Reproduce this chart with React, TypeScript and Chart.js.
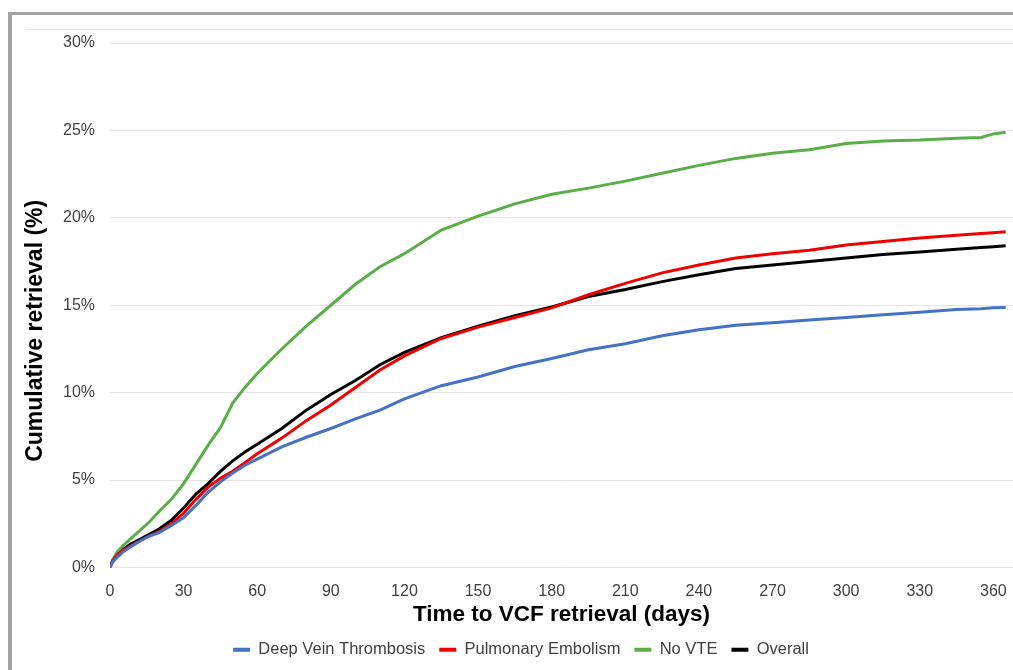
import React, { useEffect, useRef } from "react";
import { Chart, registerables } from "chart.js";

Chart.register(...registerables);

// Days since VCF placement
const days = [0, 1, 3, 5, 8, 12, 16, 20, 25, 30, 35, 40, 45, 50, 55, 60, 70, 80, 90, 100, 110, 120, 135, 150, 165, 180, 195, 210, 225, 240, 255, 270, 285, 300, 315, 330, 345, 355, 360, 365];

// Cumulative retrieval (%)
const dvt = [0, 0.3, 0.6, 0.85, 1.15, 1.5, 1.8, 2.0, 2.4, 2.85, 3.55, 4.3, 4.9, 5.4, 5.85, 6.2, 6.9, 7.45, 7.95, 8.5, 9.0, 9.65, 10.4, 10.9, 11.5, 11.95, 12.45, 12.8, 13.25, 13.6, 13.85, 14.0, 14.15, 14.3, 14.45, 14.6, 14.75, 14.8, 14.85, 14.87];
const pe = [0, 0.35, 0.75, 0.95, 1.2, 1.5, 1.8, 2.05, 2.5, 3.1, 3.9, 4.6, 5.1, 5.5, 6.0, 6.5, 7.4, 8.4, 9.3, 10.3, 11.3, 12.1, 13.1, 13.75, 14.3, 14.85, 15.6, 16.25, 16.85, 17.3, 17.7, 17.95, 18.15, 18.45, 18.65, 18.85, 19.0, 19.1, 19.15, 19.2];
const noVte = [0, 0.4, 0.9, 1.2, 1.6, 2.1, 2.6, 3.2, 3.9, 4.8, 5.9, 7.0, 8.0, 9.4, 10.3, 11.1, 12.5, 13.8, 15.0, 16.2, 17.2, 17.95, 19.3, 20.1, 20.8, 21.35, 21.7, 22.1, 22.55, 23.0, 23.4, 23.7, 23.9, 24.25, 24.4, 24.45, 24.55, 24.6, 24.8, 24.9];
const overall = [0, 0.4, 0.8, 1.0, 1.3, 1.6, 1.9, 2.2, 2.7, 3.4, 4.2, 4.8, 5.5, 6.1, 6.6, 7.05, 7.95, 9.0, 9.9, 10.7, 11.6, 12.3, 13.15, 13.8, 14.4, 14.9, 15.5, 15.9, 16.35, 16.75, 17.1, 17.3, 17.5, 17.7, 17.9, 18.05, 18.2, 18.3, 18.35, 18.4];

const seriesNames = ["Deep Vein Thrombosis", "Pulmonary Embolism", "No VTE", "Overall"];
const seriesColors = ["#4472C4", "#F00000", "#5AAD48", "#000000"];
const seriesValues = [dvt, pe, noVte, overall];

// Axis ticks
const xTickValues = [0, 30, 60, 90, 120, 150, 180, 210, 240, 270, 300, 330, 360];
const yTickStep = 5;

const FONT = "'Liberation Sans', Arial, Helvetica, sans-serif";

export default function App() {
  const ref = useRef<HTMLCanvasElement | null>(null);

  useEffect(() => {
    if (!ref.current) return;
    Chart.defaults.font.family = FONT;
    const chart = new Chart(ref.current, {
      type: "line",
      data: {
        datasets: seriesNames.map((name, i) => ({
          label: name,
          data: days.map((d, j) => ({ x: d, y: seriesValues[i][j] })),
          borderColor: seriesColors[i],
          backgroundColor: seriesColors[i],
          borderWidth: 3,
          pointRadius: 0,
          tension: 0,
          fill: false,
        })),
      },
      options: {
        animation: false,
        responsive: false,
        devicePixelRatio: 1,
        layout: { padding: { top: 28, right: 0, bottom: 2, left: 17 } },
        scales: {
          x: {
            type: "linear",
            min: 0,
            max: 368,
            grid: { display: false, drawTicks: false },
            border: { display: false },
            ticks: {
              color: "#404040",
              font: { size: 16 },
              padding: 14,
              maxRotation: 0,
              autoSkip: false,
            },
            afterBuildTicks: (scale: any) => {
              scale.ticks = xTickValues.map((v) => ({ value: v }));
            },
            afterFit: (scale: any) => {
              scale.height = 60;
              scale.paddingLeft = 0;
              scale.paddingRight = 0;
            },
            title: {
              display: true,
              text: "Time to VCF retrieval (days)",
              color: "#000000",
              font: { size: 22.5, weight: "bold" },
              padding: { top: 0, bottom: -1 },
            },
          },
          y: {
            min: 0,
            max: 30,
            grid: { color: "#e4e4e4", lineWidth: 1, drawTicks: false },
            border: { display: false },
            ticks: {
              stepSize: yTickStep,
              color: "#404040",
              font: { size: 16 },
              padding: 15,
              callback: (v: any) => v + "%",
            },
            afterFit: (scale: any) => {
              scale.width = 81;
            },
            title: {
              display: true,
              text: "Cumulative retrieval (%)        ",
              color: "#000000",
              font: { size: 23, weight: "bold" },
              padding: { top: -7, bottom: 0 },
            },
          },
        },
        plugins: {
          tooltip: { enabled: false },
          legend: {
            position: "bottom",
            labels: {
              boxWidth: 17,
              boxHeight: 4,
              padding: 14,
              color: "#404040",
              font: { size: 16.5 },
              generateLabels: (c: any) =>
                c.data.datasets.map((ds: any, i: number) => ({
                  text: ds.label,
                  fillStyle: ds.borderColor,
                  strokeStyle: ds.borderColor,
                  lineWidth: 0,
                  hidden: false,
                  datasetIndex: i,
                  fontColor: "#404040",
                })),
            },
          },
        },
      },
    });
    return () => chart.destroy();
  }, []);

  return (
    <div
      style={{
        position: "absolute",
        left: 8,
        top: 12,
        width: 1005,
        height: 658,
        boxSizing: "border-box",
        borderTop: "3px solid #a3a3a3",
        borderLeft: "4px solid #a3a3a3",
        background: "#ffffff",
        overflow: "hidden",
      }}
    >
      <div
        style={{
          position: "absolute",
          left: 14,
          right: 0,
          top: 14,
          height: 1,
          background: "#e6e6e6",
        }}
      />
      <canvas ref={ref} width={1001} height={655} style={{ display: "block", position: "relative" }} />
    </div>
  );
}
